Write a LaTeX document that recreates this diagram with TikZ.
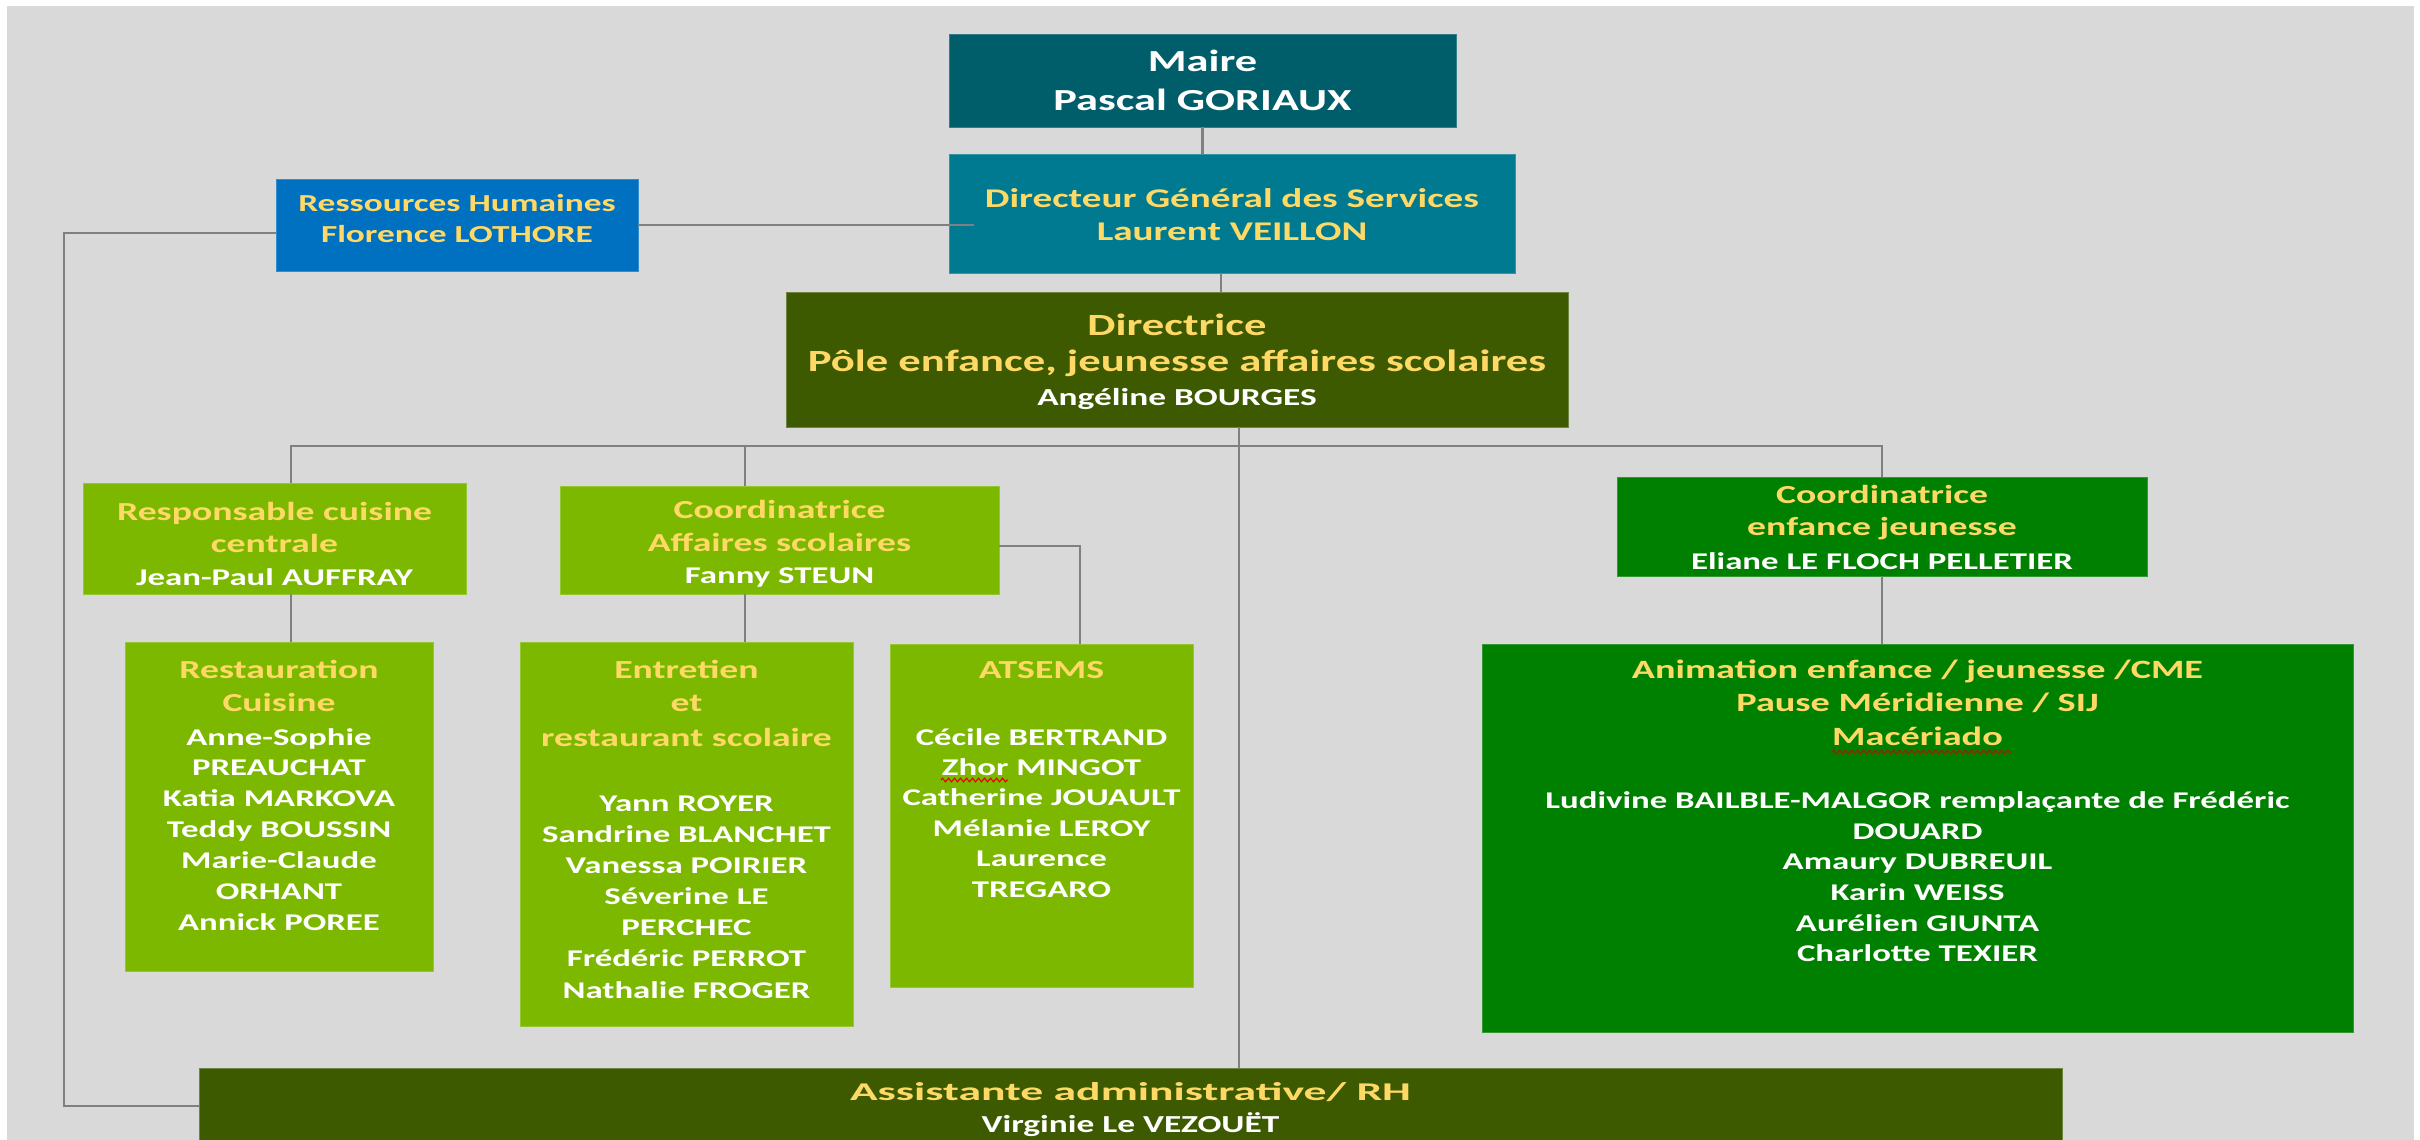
\documentclass[tikz,border=0pt]{standalone}
\usepackage{fontspec}
\setmainfont{Carlito}[FakeStretch=1.45]
\usetikzlibrary{calc,decorations.pathmorphing}
\definecolor{bgC}{HTML}{D9D9D9}
\definecolor{maireC}{HTML}{005E6B}
\definecolor{dgsC}{HTML}{007A91}
\definecolor{rhC}{HTML}{0070C0}
\definecolor{oliveC}{HTML}{3D5A00}
\definecolor{lgreenC}{HTML}{7CB800}
\definecolor{greenC}{HTML}{008000}
\definecolor{goldC}{HTML}{FFD966}
\definecolor{lineC}{HTML}{808080}
\newcommand{\pb}[3]{\parbox[t][\dimexpr#2pt/2\relax][t]{\dimexpr#1pt/2\relax}{\centering #3}}
\newcommand{\fb}[1]{\rule{0pt}{\dimexpr#1pt/2\relax}}
\newcommand{\ty}[2]{\fontsize{#1}{#2}\selectfont\leavevmode\color{goldC}}
\newcommand{\tw}[2]{\fontsize{#1}{#2}\selectfont\leavevmode\color{white}}
\tikzset{
  obox/.style={rectangle, inner sep=0pt, outer sep=0pt, anchor=north west,
    font=\bfseries, line width=0.5pt},
  conn/.style={draw=lineC, line width=1.15pt},
  spell/.style={draw=red!85!black, line width=0.5pt, decorate,
    decoration={zigzag, segment length=3pt, amplitude=0.9pt}}
}
\begin{document}
\begin{tikzpicture}[x=0.5pt, y=-0.5pt]
\useasboundingbox (0,0) rectangle (2420,1140);
\fill[white] (0,0) rectangle (2420,1140);
\fill[bgC] (7,6) rectangle (2414,1140);

% top
\node[obox, fill=maireC, draw=maireC!80!white] (maire) at (949,34)
  {\pb{507}{93}{\tw{15.3}{19.15}\fb{37.7}Maire\\\tw{15.3}{19.15}Pascal GORIAUX}};
\node[obox, fill=dgsC, draw=dgsC!80!white] (dgs) at (949,154)
  {\pb{566}{119}{\ty{13.5}{16.85}\fb{53}Directeur Général des Services\\\ty{13.5}{16.85}Laurent VEILLON}};
\node[obox, fill=rhC, draw=rhC!80!white] (rh) at (276,179)
  {\pb{362}{92}{\ty{12.2}{15.5}\fb{32.7}Ressources Humaines\\\ty{12.2}{15.5}Florence LOTHORE}};
\node[obox, fill=oliveC, draw=oliveC!75!white] (dir) at (786,292)
  {\pb{782}{135}{\ty{15.4}{17}\fb{43}Directrice\\\ty{15.4}{18}Pôle enfance, jeunesse affaires scolaires\\\tw{12.2}{17}Angéline BOURGES}};

% second level
\node[obox, fill=lgreenC, draw=lgreenC!80!white] (rc) at (83,483)
  {\pb{383}{111}{\ty{13}{16.35}\fb{37}Responsable cuisine\\\ty{13}{16.35}centrale\\\tw{12}{16.15}Jean-Paul AUFFRAY}};
\node[obox, fill=lgreenC, draw=lgreenC!80!white] (ca) at (560,486)
  {\pb{439}{108}{\ty{13}{16.25}\fb{32.5}Coordinatrice\\\ty{13}{16.25}Affaires scolaires\\\tw{12}{16.25}Fanny STEUN}};
\node[obox, fill=greenC, draw=greenC!80!white] (ce) at (1617,477)
  {\pb{530}{99}{\ty{13}{16}\fb{26}Coordinatrice\\\ty{13}{16}enfance jeunesse\\\tw{12}{17}Eliane LE FLOCH PELLETIER}};

% third level
\node[obox, fill=lgreenC, draw=lgreenC!80!white] (rest) at (125,642)
  {\pb{308}{329}{\ty{13}{16.8}\fb{36}Restauration\\\ty{13}{16.8}Cuisine\\
   \tw{12}{16.7}Anne-Sophie\\\tw{12}{15.45}PREAUCHAT\\\tw{12}{15.45}Katia MARKOVA\\
   \tw{12}{15.45}Teddy BOUSSIN\\\tw{12}{15.45}Marie-Claude\\\tw{12}{15.45}ORHANT\\
   \tw{12}{15.45}Annick POREE}};
\node[obox, fill=lgreenC, draw=lgreenC!80!white] (ent) at (520,642)
  {\pb{333}{384}{\ty{13}{16.8}\fb{36}Entretien\\\ty{13}{16.8}et\\\ty{13}{17.2}restaurant scolaire\\
   \tw{12}{32.5}Yann ROYER\\\tw{12}{15.5}Sandrine BLANCHET\\\tw{12}{15.5}Vanessa POIRIER\\
   \tw{12}{15.5}Séverine LE\\\tw{12}{15.5}PERCHEC\\\tw{12}{15.5}Frédéric PERROT\\
   \tw{12}{16}Nathalie FROGER}};
\node[obox, fill=lgreenC, draw=lgreenC!80!white] (ats) at (890,644)
  {\pb{303}{343}{\ty{13}{16.8}\fb{34}ATSEMS\\
   \tw{12}{33.5}Cécile BERTRAND\\\tw{12}{15.2}Zhor MINGOT\\\tw{12}{15.2}Catherine JOUAULT\\
   \tw{12}{15.2}Mélanie LEROY\\\tw{12}{15.2}Laurence\\\tw{12}{15.2}TREGARO}};
\node[obox, fill=greenC, draw=greenC!80!white] (anim) at (1482,644)
  {\pb{871}{388}{\ty{13.2}{16.8}\fb{34}Animation enfance / jeunesse /CME\\\ty{13.2}{16.8}Pause Méridienne / SIJ\\
   \ty{13.2}{16.7}Macériado\\
   \tw{12}{31.65}Ludivine BAILBLE-MALGOR remplaçante de Frédéric\\\tw{12}{15.35}DOUARD\\
   \tw{12}{15.35}Amaury DUBREUIL\\\tw{12}{15.35}Karin WEISS\\\tw{12}{15.35}Aurélien GIUNTA\\
   \tw{12}{15.35}Charlotte TEXIER}};

% bottom
\node[obox, fill=oliveC, draw=oliveC!75!white] (asst) at (199,1068)
  {\pb{1863}{72}{\ty{12.8}{16}\fb{32}\scalebox{1.23}[1]{Assistante administrative/ RH}\\\tw{12.2}{16}Virginie Le VEZOUËT}};

% spelling marks
\draw[spell] (941,780) -- (1008,780);
\draw[spell] (1832,752) -- (2011,752);

% connectors
\coordinate (xd) at (1221,0);
\coordinate (xa) at (1239,0);
\coordinate (b1) at (291,446);
\coordinate (b2) at (745,446);
\coordinate (lc) at (64,1106);
\draw[conn] (maire.south) -- (maire.south |- dgs.north);
\draw[conn] (xd |- dgs.south) -- (xd |- dir.north);
\draw[conn] (rh.east) -- ([xshift=12.5pt]dgs.west |- rh.east);
\draw[conn] ([yshift=-4pt]rh.west) -| (lc) -- (lc -| asst.west);
\draw[conn] (xa |- dir.south) -- (xa |- asst.north);
\draw[conn] (b1 |- rc.north) -- (b1) -- (b1 -| ce.north) -- (ce.north);
\draw[conn] (b2) -- (b2 |- ca.north);
\draw[conn] (b1 |- rc.south) -- (b1 |- rest.north);
\draw[conn] (b2 |- ca.south) -- (b2 |- ent.north);
\draw[conn] ([yshift=-3pt]ca.east) -| ([xshift=19.25pt]ats.north);
\draw[conn] (ce.south) -- (ce.south |- anim.north);
\end{tikzpicture}
\end{document}
